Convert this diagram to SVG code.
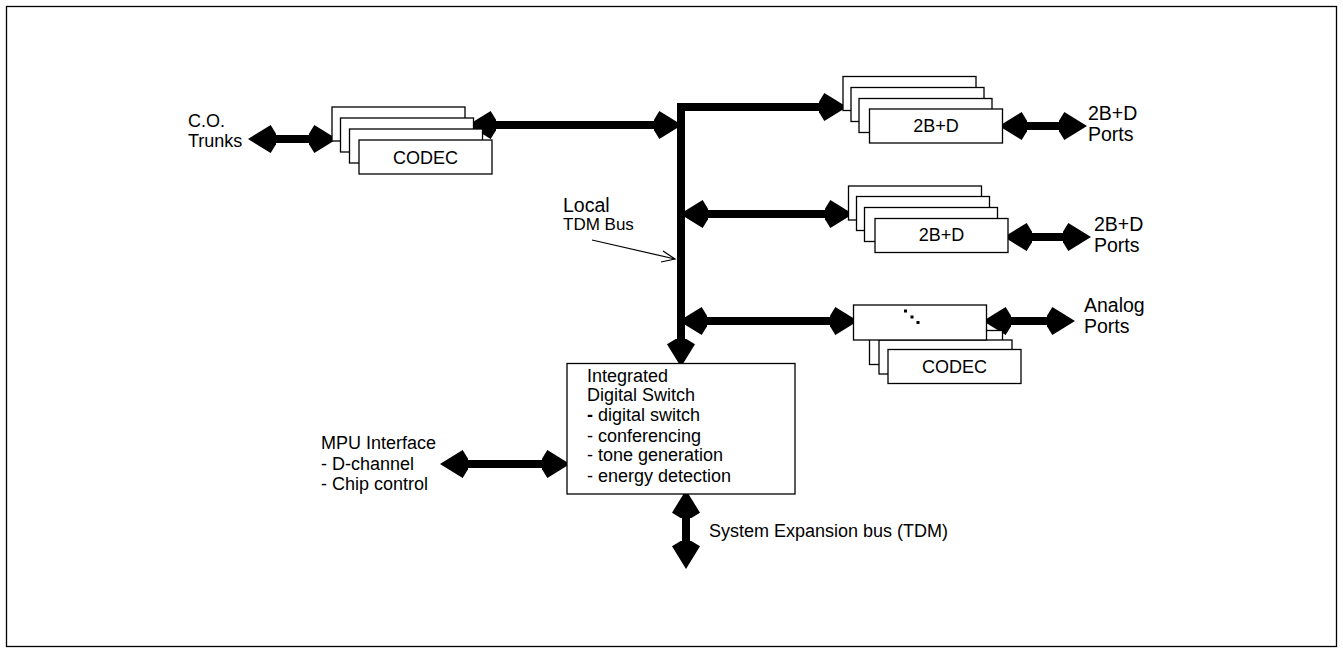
<svg xmlns="http://www.w3.org/2000/svg" width="1343" height="653" viewBox="0 0 1343 653">
<style>
text{font-family:"Liberation Sans",Arial,sans-serif;fill:#000}
.t18{font-size:18px}
.t20{font-size:19.5px}
.t17{font-size:17px}
.box{fill:#fff;stroke:#000;stroke-width:1.3}
.bus{fill:none;stroke:#000;stroke-width:8;stroke-linejoin:miter}
.thin{fill:none;stroke:#000;stroke-width:1.2}
</style>
<defs>
<marker id="head" markerUnits="userSpaceOnUse" orient="auto-start-reverse" refX="0" refY="0" markerWidth="40" markerHeight="40" viewBox="-10 -15 30 30" overflow="visible">
<path d="M15,0 L-2,-10.5 L-6,-4 L-6,4 L-2,10.5 Z" fill="#000"/>
</marker>
</defs>
<rect x="6.5" y="6.5" width="1330" height="640" fill="#fff" stroke="#000" stroke-width="1.3"/>

<g id="connectors">
<path class="bus" d="M268,139 L317,139" marker-start="url(#head)" marker-end="url(#head)"/>
<path class="bus" d="M488,125 L662,125" marker-start="url(#head)" marker-end="url(#head)"/>
<path class="bus" d="M827,107 L681,107 L681,347" marker-start="url(#head)" marker-end="url(#head)"/>
<path class="bus" d="M700,214 L833,214" marker-start="url(#head)" marker-end="url(#head)"/>
<path class="bus" d="M699,321 L838,321" marker-start="url(#head)" marker-end="url(#head)"/>
<path class="bus" d="M1019,126 L1067,126" marker-start="url(#head)" marker-end="url(#head)"/>
<path class="bus" d="M1024,237 L1071,237" marker-start="url(#head)" marker-end="url(#head)"/>
<path class="bus" d="M1003,321 L1055,321" marker-start="url(#head)" marker-end="url(#head)"/>
<path class="bus" d="M460,464 L550,464" marker-start="url(#head)" marker-end="url(#head)"/>
<path class="bus" d="M686,510 L686,549" marker-start="url(#head)" marker-end="url(#head)"/>
<path class="thin" d="M592,240 L675,259"/>
<path class="thin" d="M663,251 L675,259 L661,262"/>
</g>

<g id="co-trunks">
<text class="t18" x="188" y="127">C.O.</text>
<text class="t18" x="188" y="147">Trunks</text>
</g>

<g id="codec-stack-1">
<rect class="box" x="332" y="107" width="133" height="34"/>
<rect class="box" x="340.5" y="118" width="133" height="34"/>
<rect class="box" x="349.5" y="129" width="133" height="34"/>
<rect class="box" x="359" y="140" width="133" height="34"/>
<text class="t18" x="425.5" y="164" text-anchor="middle">CODEC</text>
</g>

<g id="bdstack-1">
<rect class="box" x="843" y="76.5" width="133" height="34"/>
<rect class="box" x="851" y="87.5" width="133" height="34"/>
<rect class="box" x="859" y="98.5" width="133" height="34"/>
<rect class="box" x="869.5" y="109" width="133" height="34"/>
<text class="t18" x="936" y="132" text-anchor="middle">2B+D</text>
</g>
<g id="ports-1">
<text class="t20" x="1088" y="120">2B+D</text>
<text class="t20" x="1088" y="141">Ports</text>
</g>

<g id="bdstack-2">
<rect class="box" x="848.5" y="186" width="133" height="34"/>
<rect class="box" x="856.5" y="196.5" width="133" height="34"/>
<rect class="box" x="864.5" y="207.5" width="133" height="34"/>
<rect class="box" x="875" y="218.5" width="133" height="34"/>
<text class="t18" x="941.5" y="241" text-anchor="middle">2B+D</text>
</g>
<g id="ports-2">
<text class="t20" x="1094" y="231">2B+D</text>
<text class="t20" x="1094" y="252">Ports</text>
</g>

<g id="codec-stack-2">
<rect class="box" x="869.5" y="330.5" width="133" height="34"/>
<rect class="box" x="879" y="340" width="133" height="34"/>
<rect class="box" x="888" y="349.5" width="133" height="34"/>
<text class="t18" x="954.5" y="373" text-anchor="middle">CODEC</text>
<rect class="box" x="853.5" y="305" width="133" height="35"/>
<rect x="904" y="309.5" width="3" height="3" fill="#000"/>
<rect x="910.5" y="315.5" width="3" height="3" fill="#000"/>
<rect x="916.5" y="321" width="3" height="3" fill="#000"/>
</g>
<g id="analog-ports">
<text class="t20" x="1084" y="312">Analog</text>
<text class="t20" x="1084" y="333">Ports</text>
</g>

<g id="local-tdm-bus">
<text class="t20" x="563" y="212">Local</text>
<text class="t17" x="563" y="230">TDM Bus</text>
</g>

<g id="ids">
<rect class="box" x="567" y="363.5" width="228" height="130.5"/>
<text class="t18" x="587" y="382">Integrated</text>
<text class="t18" x="587" y="401">Digital Switch</text>
<text class="t18" x="587" y="421"><tspan font-weight="bold">-</tspan> digital switch</text>
<text class="t18" x="587" y="442">- conferencing</text>
<text class="t18" x="587" y="461">- tone generation</text>
<text class="t18" x="587" y="482">- energy detection</text>
</g>

<g id="mpu">
<text class="t18" x="321" y="449">MPU Interface</text>
<text class="t18" x="321" y="470">- D-channel</text>
<text class="t18" x="321" y="490">- Chip control</text>
</g>

<g id="sys-exp">
<text class="t18" x="709" y="537">System Expansion bus (TDM)</text>
</g>
</svg>
